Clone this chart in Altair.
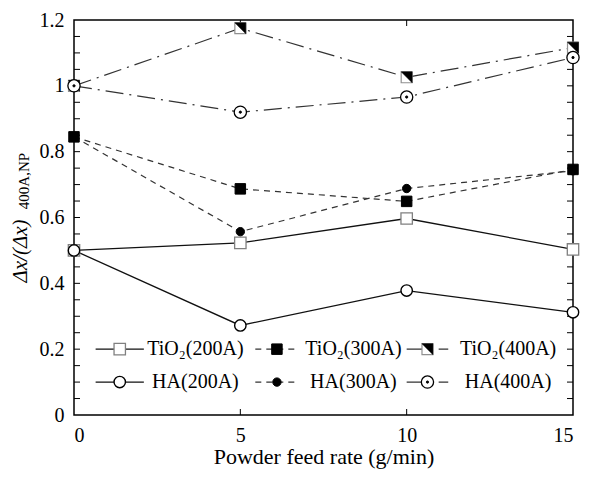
import altair as alt
import pandas as pd

# ---- data ----
feed_rate = [0, 5, 10, 15]
tio2_200 = [0.50, 0.523, 0.597, 0.503]
tio2_300 = [0.845, 0.687, 0.649, 0.746]
tio2_400 = [1.0, 1.175, 1.026, 1.116]
ha_200 = [0.50, 0.272, 0.378, 0.312]
ha_300 = [0.845, 0.557, 0.688, 0.742]
ha_400 = [1.0, 0.92, 0.966, 1.086]

series_labels = ["TiO₂(200A)", "TiO₂(300A)", "TiO₂(400A)",
                 "HA(200A)", "HA(300A)", "HA(400A)"]

y_tick_labels = [0, 0.2, 0.4, 0.6, 0.8, 1.0, 1.2]
y_minor_ticks = [0.05, 0.1, 0.15, 0.2, 0.25, 0.3, 0.35, 0.4, 0.45, 0.5, 0.55,
                 0.6, 0.65, 0.7, 0.75, 0.8, 0.85, 0.9, 0.95, 1.0, 1.05, 1.1, 1.15]
x_tick_labels = [0, 5, 10, 15]
x_inner_ticks = [5, 10]

x_title = "Powder feed rate (g/min)"
y_title_main = "Δx/(Δx)"
y_title_sub = "400A,NP"

# ---- layout ----
W, H = 499, 395
FONT = "Liberation Serif"
TK = 6

xs = alt.Scale(domain=[0, 15], nice=False, zero=False)
ys = alt.Scale(domain=[0, 1.2], nice=False, zero=False)
x_axis = alt.Axis(values=x_tick_labels, title=x_title, labelPadding=10,
                  titlePadding=1, ticks=False, tickSize=0, domain=False, grid=False)
y_axis = alt.Axis(values=y_tick_labels, format=".1~f", title=None, labelPadding=10,
                  ticks=False, tickSize=0, domain=False, grid=False)


def X(field="x"):
    return alt.X(f"{field}:Q", scale=xs, axis=x_axis, title=x_title)


def Y(field="y"):
    return alt.Y(f"{field}:Q", scale=ys, axis=y_axis, title=None)


SOLID = None
DASH = [6, 5]
DASHDOT = [18, 6, 2, 6]

styles = [
    # label, values, dash, marker layers (shape, size, fill, stroke, strokeWidth)
    (series_labels[0], tio2_200, SOLID, [("square", 130, "white", "#808080", 1.3)]),
    (series_labels[1], tio2_300, DASH, [("square", 110, "black", "black", 1)]),
    (series_labels[2], tio2_400, DASHDOT, [("square", 120, "white", "#909090", 1.2),
                                           ("M-1,-1L1,-1L1,1Z", 120, "black", "black", 0.5)]),
    (series_labels[3], ha_200, SOLID, [("circle", 130, "white", "black", 1.4)]),
    (series_labels[4], ha_300, DASH, [("circle", 70, "black", "black", 1)]),
    (series_labels[5], ha_400, DASHDOT, [("circle", 150, "white", "black", 1.3),
                                         ("circle", 5, "black", "black", 1)]),
]

# legend layout in data units: (line start, line length, text centre) per column
leg_cols = [(0.65, 1.45, 3.65), (5.45, 1.3, 8.4), (10.0, 1.25, 13.05)]
leg_rows = [0.2, 0.1]

line_layers, point_layers, legend_layers = [], [], []
for i, (lab, vals, dash, markers) in enumerate(styles):
    df = pd.DataFrame({"x": feed_rate, "y": vals})
    lkw = dict(color="#111111" if dash is None else "#333333",
               strokeWidth=1.3 if dash is None else 1.2)
    if dash is not None:
        lkw["strokeDash"] = dash
    line_layers.append(alt.Chart(df).mark_line(**lkw).encode(x=X(), y=Y()))

    col, row = i % 3, i // 3
    x0, ln, xt = leg_cols[col]
    yv = leg_rows[row]
    leg_line = pd.DataFrame({"x": [x0], "x2": [x0 + ln], "y": [yv]})
    rkw = dict(lkw)
    legend_layers.append(alt.Chart(leg_line).mark_rule(**rkw).encode(
        x=X(), x2="x2:Q", y=Y()))
    leg_pt = pd.DataFrame({"x": [x0 + ln / 2], "y": [yv]})
    for shape, size, fill, stroke, sw in markers:
        pkw = dict(shape=shape, size=size, fill=fill, stroke=stroke,
                   strokeWidth=sw, opacity=1, filled=True)
        point_layers.append(alt.Chart(df).mark_point(**pkw).encode(x=X(), y=Y()))
        legend_layers.append(alt.Chart(leg_pt).mark_point(**pkw).encode(x=X(), y=Y()))
    leg_txt = pd.DataFrame({"x": [xt], "y": [yv], "label": [lab]})
    legend_layers.append(alt.Chart(leg_txt).mark_text(
        font=FONT, fontSize=20, color="black", align="center", baseline="middle"
    ).encode(x=X(), y=Y(), text="label:N"))

# inner ticks
ytk = pd.DataFrame({"y": y_minor_ticks})
xtk = pd.DataFrame({"x": x_inner_ticks})
tick_layers = [
    alt.Chart(ytk).mark_rule(color="black", strokeWidth=1).encode(
        y=Y(), x=alt.value(0), x2=alt.value(TK)),
    alt.Chart(ytk).mark_rule(color="black", strokeWidth=1).encode(
        y=Y(), x=alt.value(W), x2=alt.value(W - TK)),
    alt.Chart(xtk).mark_rule(color="black", strokeWidth=1).encode(
        x=X(), y=alt.value(H), y2=alt.value(H - TK)),
    alt.Chart(xtk).mark_rule(color="black", strokeWidth=1).encode(
        x=X(), y=alt.value(0), y2=alt.value(TK)),
]

# y title (main + subscript)
ytitle = [
    alt.Chart(pd.DataFrame({"t": [y_title_main]})).mark_text(
        font=FONT, fontSize=21, fontStyle="italic", angle=270, color="black",
        align="center", baseline="middle"
    ).encode(x=alt.value(-53), y=alt.value(231), text="t:N"),
    alt.Chart(pd.DataFrame({"t": [y_title_sub]})).mark_text(
        font=FONT, fontSize=15, angle=270, color="black",
        align="center", baseline="middle"
    ).encode(x=alt.value(-50), y=alt.value(161), text="t:N"),
]

chart = alt.layer(*tick_layers, *line_layers, *point_layers, *legend_layers, *ytitle).properties(
    width=W, height=H,
    autosize=alt.AutoSizeParams(type="none"),
    padding={"left": 66, "top": 12, "right": 26, "bottom": 55},
    background="white",
).configure_view(
    stroke="black", strokeWidth=1.5
).configure_axis(
    labelFont=FONT, labelFontSize=20, labelColor="black",
    titleFont=FONT, titleFontSize=22, titleColor="black", titleFontWeight="normal",
)

chart.save("out.html", embed_options={"renderer": "svg", "actions": False})
